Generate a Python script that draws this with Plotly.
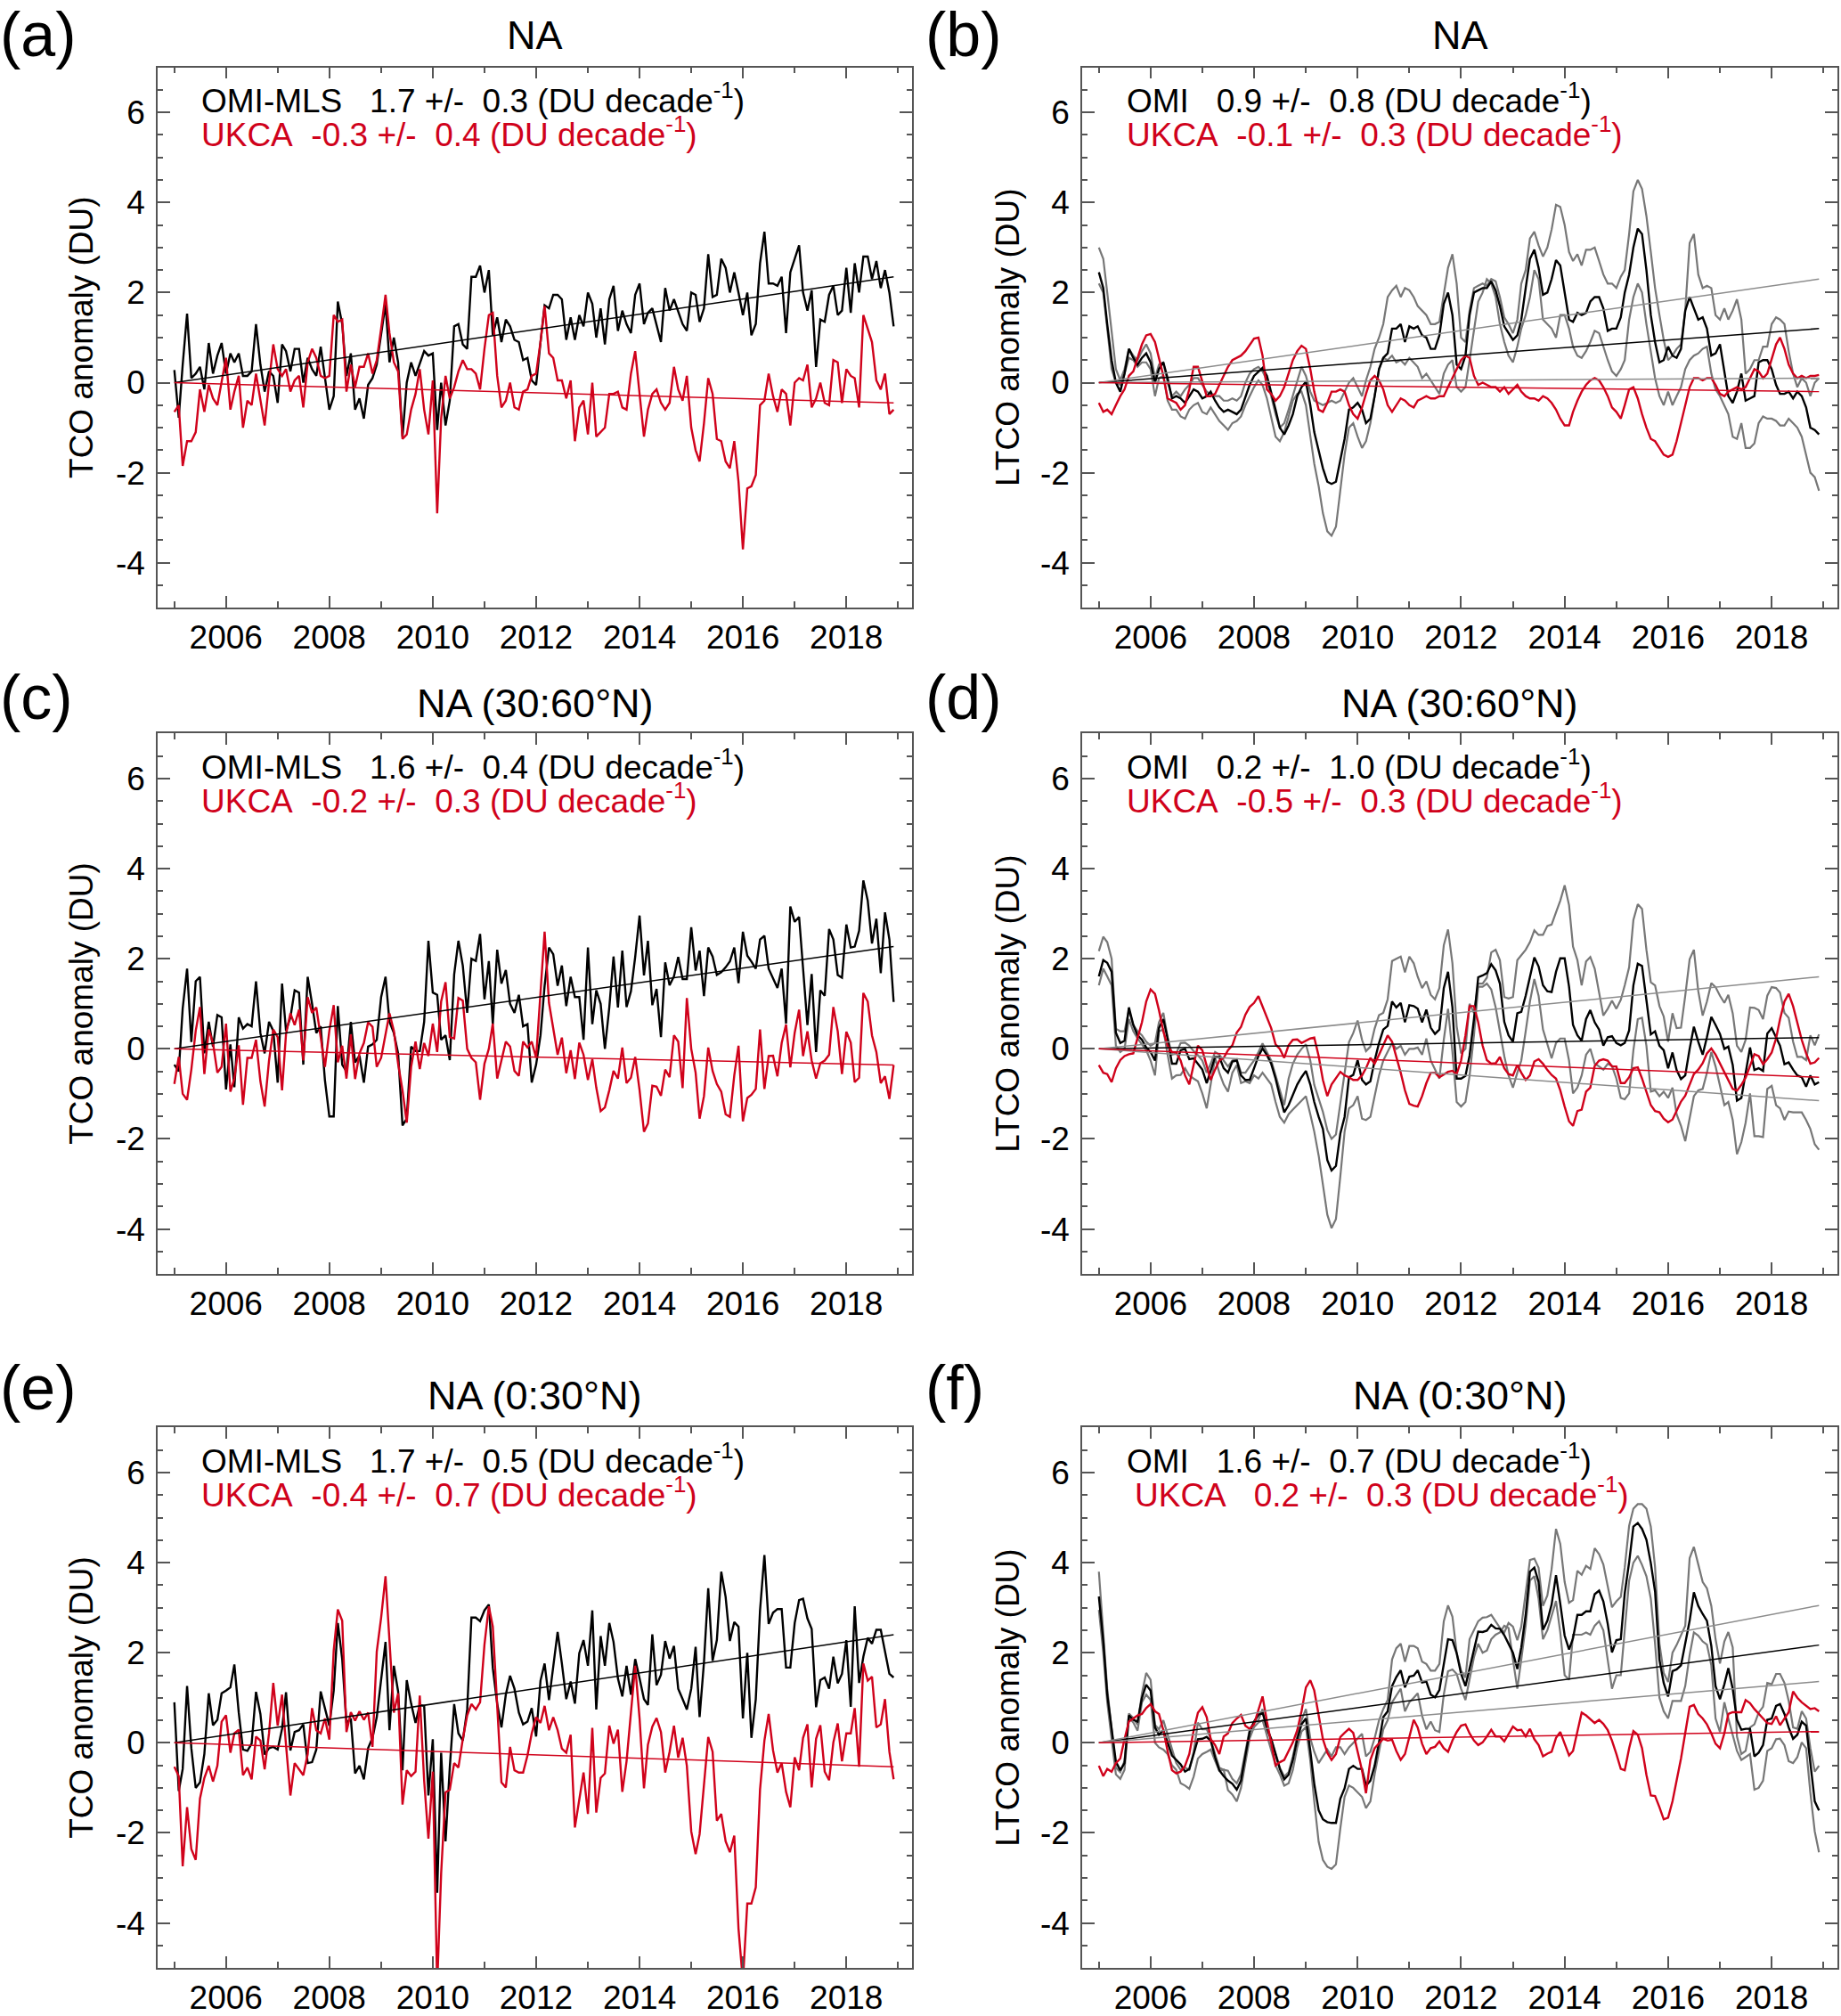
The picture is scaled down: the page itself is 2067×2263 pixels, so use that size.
import numpy as np
import pandas as pd
import plotly.graph_objects as go

W, H = 2067, 2263
FONT = "Liberation Sans, Arial, Helvetica, sans-serif"
RED = "#d0021b"
GREY = "#777777"
TREND_GREY = "#8c8c8c"
AX = "#555555"

# monthly anomalies, Jan 2005 - Dec 2018 (one line per year)
months = pd.date_range("2005-01-01", periods=168, freq="MS")

# (a) NA, TCO
tco_na_omi = [
    0.28, -0.78, 0.4, 1.53, 0.1, 0.2, 0.35, -0.15, 0.88, 0.2, 0.6, 0.88,
    0.2, 0.65, 0.45, 0.65, 0.15, 0.15, 0.25, 1.3, 0.4, -0.2, 0.25, 0.15,
    -0.45, 0.85, 0.7, 0.25, 0.75, 0.75, 0.0, 0.55, 0.3, 0.15, 0.8, 0.15,
    -0.6, -0.3, 1.8, 1.3, 0.15, 0.65, -0.6, -0.35, -0.8, -0.05, 0.1, 0.4,
    1.1, 1.75, 0.45, 1.0, 0.45, -1.2, 0.0, 0.45, 0.15, 0.4, 0.7, 0.6,
    0.65, -1.05, 0.0, -0.95, -0.4, 1.25, 1.3, 0.85, 0.75, 2.35, 2.35, 2.6,
    2.0, 2.5, 1.05, 1.45, 0.9, 1.4, 1.25, 0.95, 0.9, 0.5, 0.55, 0.05,
    -0.05, 0.9, 1.72, 1.65, 1.95, 1.95, 1.85, 0.95, 1.45, 0.95, 1.5, 1.25,
    2.0, 1.75, 1.0, 1.65, 0.85, 1.85, 2.15, 1.15, 1.6, 1.3, 1.1, 1.95,
    2.2, 1.3, 1.55, 1.65, 1.3, 0.9, 2.1, 1.6, 1.85, 1.6, 1.3, 1.15,
    2.0, 1.95, 1.35, 1.65, 2.85, 1.9, 1.95, 2.75, 2.55, 2.0, 2.45, 2.0,
    1.5, 2.0, 1.05, 1.3, 2.65, 3.35, 2.2, 2.2, 2.15, 2.35, 1.1, 2.45,
    2.75, 3.05, 2.0, 1.6, 2.05, 0.35, 1.4, 1.35, 1.95, 2.15, 1.5, 1.6,
    2.55, 1.55, 2.65, 2.0, 2.8, 2.8, 2.3, 2.7, 2.1, 2.5, 2.0, 1.25,
]
tco_na_ukca = [
    -0.65, -0.5, -1.85, -1.3, -1.3, -1.1, -0.15, -0.65, -0.05, -0.35, -0.5, 0.0,
    0.55, -0.6, -0.2, 0.15, -1.0, -0.4, -0.5, 0.2, -0.4, -0.95, 0.0, 0.85,
    0.3, 0.15, 0.3, -0.2, 0.05, 0.15, -0.55, 0.45, 0.75, 0.55, 0.15, 0.1,
    0.15, 1.5, 1.35, 1.4, -0.2, 0.4, -0.1, 0.35, 0.35, 0.65, 0.2, 0.5,
    1.2, 1.95, 1.1, 0.45, 0.25, -1.25, -1.15, -0.6, -0.25, 0.3, -0.6, -1.15,
    0.05, -2.9, -0.8, 0.15, -0.35, -0.1, 0.25, 0.5, 0.3, 0.3, 0.2, -0.15,
    0.75, 1.5, 1.55, 0.15, -0.55, -0.4, 0.0, -0.55, -0.6, -0.2, -0.15, 0.15,
    0.2, 0.9, 1.7, 0.65, 0.55, 0.05, 0.05, -0.35, 0.05, -1.3, -0.55, -0.4,
    -1.15, 0.0, -1.2, -1.1, -1.0, -0.25, -0.25, -0.2, -0.55, -0.6, 0.2, 0.7,
    -0.3, -1.2, -0.6, -0.25, -0.15, -0.45, -0.6, -0.45, 0.35, -0.15, -0.4, 0.15,
    -1.0, -1.5, -1.75, -0.9, 0.1, -0.25, -1.25, -1.3, -1.75, -1.9, -1.3, -2.2,
    -3.7, -2.35, -2.3, -2.05, -0.5, -0.4, 0.2, -0.3, -0.65, -0.15, -0.25, -0.95,
    0.0, 0.1, 0.05, 0.4, -0.55, -0.35, 0.0, -0.45, -0.5, 0.5, 0.45, -0.45,
    0.3, 0.15, 0.1, -0.55, 1.5, 1.2, 0.9, 0.05, -0.15, 0.2, -0.7, -0.6,
]

# (b) NA, LTCO
ltco_na_omi = [
    2.45, 2.1, 1.3, 0.5, 0.0, -0.2, 0.2, 0.75, 0.55, 0.4, 0.55, 0.65,
    0.45, 0.0, 0.3, 0.45, 0.1, -0.35, -0.3, -0.35, -0.45, -0.3, -0.15, -0.2,
    -0.35, -0.3, -0.2, -0.4, -0.55, -0.65, -0.6, -0.65, -0.7, -0.6, -0.3, -0.05,
    0.15, 0.25, 0.33, 0.15, -0.2, -0.6, -1.0, -1.15, -0.95, -0.7, -0.3, -0.1,
    0.02, -0.5, -1.1, -1.5, -1.9, -2.2, -2.25, -2.2, -1.7, -1.25, -0.6, -0.55,
    -0.45, -0.6, -0.9, -0.8, -0.3, 0.3, 0.55, 0.65, 1.2, 1.2, 1.3, 0.9,
    1.25, 1.2, 1.25, 1.05, 1.0, 0.75, 0.75, 1.05, 1.75, 2.0, 1.5, 0.4,
    0.3, 0.6, 1.5, 2.0, 2.05, 2.1, 2.1, 2.25, 2.05, 1.7, 1.25, 1.1,
    0.95, 1.05, 1.4, 2.1, 2.75, 2.95, 2.55, 1.95, 2.0, 2.3, 2.72, 2.6,
    2.0, 1.4, 1.35, 1.55, 1.5, 1.55, 1.8, 1.9, 1.9, 1.65, 1.15, 1.2,
    1.2, 1.45, 2.0, 2.4, 3.0, 3.42, 3.3, 2.5, 1.5, 0.9, 0.45, 0.5,
    0.8, 0.6, 0.55, 0.75, 1.6, 1.9, 1.65, 1.4, 1.45, 1.2, 0.6, 0.65,
    0.85, 0.2, -0.3, -0.45, -0.2, 0.2, -0.4, -0.35, -0.3, 0.45, 0.5, 0.5,
    0.3, -0.05, -0.25, -0.25, -0.2, -0.35, -0.2, -0.3, -0.55, -1.0, -1.05, -1.15,
]
ltco_na_omi_hi = [
    3.0, 2.75, 2.0, 1.1, 0.3, 0.05, 0.3, 0.75, 0.6, 0.5, 0.7, 0.85,
    0.65, 0.1, 0.4, 0.45, 0.0, -0.3, -0.2, -0.3, -0.15, -0.05, 0.1, 0.1,
    -0.05, -0.2, -0.25, -0.3, -0.3, -0.4, -0.4, -0.35, -0.4, -0.3, 0.0, 0.2,
    0.3, 0.35, 0.25, 0.05, -0.3, -0.7, -1.0, -0.9, -0.6, -0.3, 0.0, 0.35,
    0.15, -0.2, -0.4, -0.45, -0.5, -0.45, -0.4, -0.45, -0.4, -0.2, 0.0, 0.1,
    -0.1, -0.3, 0.05, 0.35, 0.75, 1.0, 1.3, 1.9, 2.05, 2.15, 1.9, 2.1,
    2.05, 1.9, 1.7, 1.6, 1.5, 1.3, 1.3, 1.35, 1.95, 2.55, 2.85, 2.2,
    1.0, 0.9, 1.6, 2.1, 2.15, 2.2, 2.15, 2.3, 2.25, 1.9, 1.45, 1.3,
    1.1, 1.4, 2.2, 2.5, 3.2, 3.35, 3.05, 2.8, 3.0, 3.4, 3.95, 3.9,
    3.5, 2.9, 2.7, 2.85, 2.6, 2.95, 2.95, 3.0, 2.7, 2.4, 2.2, 2.2,
    2.1, 2.35, 2.5, 3.3, 4.25, 4.5, 4.3, 3.7, 2.9, 2.1, 1.5, 0.95,
    0.5, 0.6, 0.75, 0.85, 1.6, 3.1, 3.3, 2.4, 2.1, 2.15, 2.1, 1.5,
    1.4, 1.65, 1.4, 1.6, 1.85, 1.4, 0.2, 0.3, 0.5, 0.5, 0.8, 0.8,
    1.3, 1.45, 1.4, 1.3, 0.7, 0.2, -0.1, 0.1, 0.0, -0.3, 0.0, 0.1,
]
ltco_na_omi_lo = [
    2.2, 2.0, 1.2, 0.3, 0.0, -0.05, 0.2, 0.55, 0.5, 0.35, 0.45, 0.45,
    0.3, -0.3, 0.1, 0.15, -0.4, -0.6, -0.6, -0.75, -0.8, -0.6, -0.5, -0.45,
    -0.65, -0.7, -0.55, -0.7, -0.85, -0.95, -1.05, -0.9, -0.85, -0.75, -0.5, -0.3,
    -0.1, 0.05, -0.05, -0.35, -0.8, -1.2, -1.3, -1.1, -0.75, -0.4, -0.25, -0.2,
    -0.5, -1.2, -1.8, -2.3, -2.9, -3.3, -3.4, -3.2, -2.4, -1.6, -1.0, -0.9,
    -1.2, -1.45, -1.3, -0.9, -0.3, 0.3, 0.55, 0.5, 0.6, 0.45, 0.5, 0.4,
    0.55, 0.45, 0.35, 0.1, 0.2, 0.05, -0.1, -0.25, 0.2, 0.4, 0.5, -0.1,
    -0.2, -0.1, 0.5, 1.2, 1.8, 2.0, 2.3, 2.2, 1.9, 1.3, 0.9, 0.6,
    0.45, 0.8, 1.2, 1.5, 1.9, 2.5, 2.3, 1.4, 1.3, 1.2, 1.0, 1.5,
    1.5, 1.2, 0.8, 0.6, 0.55, 0.7, 0.9, 1.15, 1.1, 0.8, 0.5, 0.25,
    0.15, 0.3, 0.5, 1.4, 1.9, 2.2, 2.0, 1.3, 0.7, 0.1, -0.3, -0.5,
    -0.2, -0.5, -0.3, -0.1, 0.3, 0.5, 0.6, 0.65, 0.75, 0.8, 0.2, -0.15,
    -0.3, -0.5, -0.7, -1.2, -1.25, -0.9, -1.45, -1.45, -1.35, -0.9, -0.75, -0.8,
    -0.8, -0.85, -0.95, -0.95, -0.8, -0.9, -1.0, -1.2, -1.6, -2.0, -2.1, -2.4,
]
ltco_na_ukca = [
    -0.45, -0.65, -0.6, -0.7, -0.5, -0.3, -0.15, 0.15, 0.25, 0.55, 0.85, 1.05,
    1.08, 0.9, 0.55, 0.15, -0.35, -0.4, -0.45, -0.6, -0.5, -0.15, 0.35, 0.35,
    0.0, -0.3, -0.3, -0.25, -0.05, 0.15, 0.35, 0.5, 0.55, 0.6, 0.7, 0.85,
    0.98, 1.0, 0.6, -0.15, -0.25, -0.4, -0.3, -0.1, 0.2, 0.5, 0.7, 0.82,
    0.75, 0.3, -0.2, -0.6, -0.65, -0.45, -0.2, -0.2, -0.15, -0.2, -0.5, -0.7,
    -0.8, -0.55, -0.25, 0.05, 0.15, 0.05, -0.15, -0.5, -0.65, -0.5, -0.35, -0.4,
    -0.5, -0.55, -0.4, -0.35, -0.3, -0.35, -0.35, -0.3, -0.3, -0.1, 0.1, 0.3,
    0.5, 0.6, 0.55, 0.15, -0.05, 0.0, -0.05, -0.1, -0.1, -0.2, -0.1, -0.25,
    -0.15, -0.05, -0.2, -0.3, -0.35, -0.35, -0.4, -0.3, -0.35, -0.45, -0.6, -0.8,
    -0.95, -0.95, -0.65, -0.4, -0.2, -0.05, 0.05, 0.1, 0.05, -0.1, -0.3, -0.55,
    -0.65, -0.8, -0.5, -0.15, -0.1, -0.35, -0.7, -1.0, -1.25, -1.3, -1.45, -1.6,
    -1.65, -1.6, -1.3, -0.9, -0.5, -0.1, 0.1, 0.1, 0.05, 0.1, 0.1, -0.05,
    -0.25, -0.3, -0.2, -0.15, -0.1, -0.15, -0.1, 0.1, 0.3, 0.25, 0.1, 0.2,
    0.55, 0.85, 1.0, 0.75, 0.4, 0.2, 0.1, 0.15, 0.1, 0.15, 0.15, 0.17,
]

# (c) NA 30:60N, TCO
tco_nam_omi = [
    -0.35, -0.5, 0.9, 1.78, 0.15, 1.5, 1.6, -0.1, 0.6, 0.05, 0.75, 0.7,
    -0.9, 0.1, -0.85, 0.7, 0.45, 0.55, 0.5, 1.5, 0.35, -0.1, 0.6, 0.4,
    -0.75, 1.45, 0.4, 0.7, 1.3, 1.25, -0.35, 1.6, 1.0, 0.35, 0.5, -0.7,
    -1.5, -1.5, 0.95, -0.35, -0.5, 0.6, -0.3, -0.15, -0.75, 0.05, 0.1, 0.2,
    1.15, 1.6, 0.6, 0.35, -0.1, -1.7, -1.55, 0.05, -0.05, -0.05, 0.6, 2.4,
    1.25, 1.2, 0.2, 0.3, -0.25, 1.65, 2.4, 1.85, 0.8, 2.0, 1.95, 2.55,
    1.1, 1.95, 0.55, 2.2, 1.45, 1.75, 1.0, 0.8, 1.2, 0.5, 0.55, -0.75,
    -0.35, 0.3, 1.4, 2.25, 2.1, 1.4, 1.85, 0.95, 1.6, 1.15, 1.15, 0.2,
    2.25, 0.55, 1.3, 1.0, 0.0, 0.92, 2.05, 0.92, 2.18, 0.93, 1.28, 2.04,
    2.96, 1.63, 2.4, 0.97, 1.33, 0.26, 1.92, 1.41, 1.61, 2.04, 1.55, 1.55,
    2.7, 1.74, 2.18, 1.17, 2.25, 2.05, 1.64, 1.7, 1.81, 1.94, 2.25, 1.46,
    2.6, 2.07, 1.94, 1.78, 2.43, 2.51, 1.78, 1.55, 1.35, 1.78, 0.56, 3.16,
    2.82, 2.93, 1.71, 0.53, 1.66, -0.07, 1.3, 1.18, 2.66, 2.43, 1.64, 1.58,
    2.76, 2.25, 2.27, 2.62, 3.74, 3.29, 2.34, 2.89, 1.68, 3.03, 2.43, 1.04,
]
tco_nam_ukca = [
    -0.78, -0.18, -1.0, -1.13, -0.46, 0.4, 0.93, -0.56, 0.43, 0.13, -0.53, -0.4,
    0.56, -0.95, -0.66, 0.08, -1.24, -0.2, -0.2, 0.2, -0.72, -1.28, -0.26, 0.43,
    0.26, -0.92, 0.33, 0.79, 0.53, 0.87, -0.26, 1.15, 0.8, 0.92, 0.26, -0.4,
    0.4, 0.97, -0.3, 0.07, -0.66, 0.32, -0.67, -0.1, 0.13, 0.59, 0.49, -0.4,
    -0.2, 0.33, 0.79, 0.4, -0.33, -0.92, -1.64, -0.4, 0.16, -0.45, 0.13, -0.16,
    0.56, -0.07, 1.05, 1.48, 0.26, 0.23, 1.13, 1.07, 0.0, -0.2, -0.3, -1.13,
    -0.33, 0.0, 0.56, -0.66, -0.26, 0.16, 0.05, -0.49, -0.6, 0.16, 0.03, 0.16,
    -0.2, 1.2, 2.6, 1.02, 0.46, -0.13, 0.25, -0.54, -0.03, -0.67, 0.14, -0.13,
    -0.69, -0.23, -0.86, -1.38, -1.3, -0.92, -0.49, -0.66, 0.03, -0.76, -0.64, -0.18,
    -0.92, -1.84, -1.66, -0.82, -0.84, -1.04, -0.46, -0.63, 0.3, 0.16, -0.87, 1.13,
    0.0, -0.53, -1.55, -1.05, 0.03, -0.49, -0.78, -0.95, -1.45, -1.51, -0.59, 0.07,
    -1.61, -1.09, -1.02, -0.89, 0.43, -0.89, -0.16, -0.15, -0.61, 0.13, 0.54, -0.41,
    0.36, 0.87, -0.16, 0.39, -0.26, -0.66, -0.32, -0.26, -0.13, 0.93, 0.39, -0.56,
    0.38, 0.14, -0.74, -0.64, 1.24, 1.05, 0.3, -0.07, -0.76, -0.61, -1.11, -0.36,
]

# (d) NA 30:60N, LTCO
ltco_nam_omi = [
    1.61, 1.97, 1.91, 1.71, 0.36, 0.13, 0.18, 0.92, 0.53, 0.3, 0.2, 0.03,
    -0.07, -0.26, 0.46, 0.66, 0.23, -0.33, -0.33, -0.03, 0.0, -0.23, -0.21, -0.33,
    -0.46, -0.76, -0.49, -0.18, -0.18, -0.43, -0.53, -0.28, -0.26, -0.59, -0.69, -0.69,
    -0.43, -0.16, 0.01, -0.14, -0.33, -0.66, -1.05, -1.41, -1.25, -1.02, -0.79, -0.63,
    -0.49, -0.79, -1.18, -1.51, -1.78, -2.47, -2.7, -2.6, -1.88, -1.51, -0.63, -0.58,
    -0.25, -0.69, -0.79, -0.72, -0.26, 0.13, 0.43, 0.51, 1.05, 0.92, 1.02, 0.59,
    0.97, 0.95, 0.89, 0.59, 0.87, 0.47, 0.33, 0.43, 1.35, 1.71, 0.92, -0.66,
    -0.66, -0.6, -0.15, 0.66, 1.59, 1.63, 1.68, 1.88, 1.74, 1.45, 0.6, 0.3,
    0.16, 0.79, 0.82, 1.18, 1.61, 2.03, 1.83, 1.41, 1.28, 1.26, 1.71, 2.01,
    2.01, 1.38, 0.53, 0.3, 0.18, 0.66, 0.86, 0.59, 0.43, 0.07, 0.26, 0.28,
    0.13, 0.08, 0.13, 0.41, 1.41, 1.89, 1.84, 1.05, 0.32, 0.39, 0.07, -0.03,
    -0.43, -0.08, -0.47, -0.67, -0.59, 0.0, 0.49, 0.16, -0.13, 0.26, 0.71, 0.53,
    0.33, 0.0, 0.05, -0.36, -1.15, -1.09, -0.53, 0.03, -0.47, -0.43, -0.49, 0.34,
    0.46, 0.26, 0.07, -0.34, -0.3, -0.46, -0.59, -0.63, -0.84, -0.59, -0.79, -0.74,
]
ltco_nam_omi_hi = [
    2.17, 2.49, 2.37, 2.0, 0.45, 0.39, 0.39, 0.86, 0.53, 0.39, 0.3, 0.16,
    0.07, 0.13, 0.59, 0.8, 0.26, -0.13, -0.1, 0.13, 0.14, 0.07, -0.05, -0.14,
    -0.26, -0.53, -0.33, -0.07, -0.13, -0.26, -0.39, -0.26, -0.23, -0.53, -0.53, -0.39,
    -0.26, -0.07, 0.12, -0.07, -0.26, -0.59, -0.92, -1.25, -0.66, -0.33, -0.13, 0.0,
    0.1, -0.26, -0.8, -1.1, -1.4, -1.8, -2.0, -1.9, -1.2, -0.6, 0.15, 0.35,
    0.63, 0.2, -0.05, 0.05, 0.45, 0.75, 0.8, 1.1, 1.95, 2.0, 2.05, 1.7,
    2.05, 1.9, 1.6, 1.35, 1.5, 1.2, 1.1, 1.35, 2.3, 2.65, 1.9, 0.5,
    -0.1, 0.0, 1.0, 0.8, 1.45, 1.45, 1.58, 2.14, 2.2, 1.97, 1.15, 1.12,
    1.15, 1.97, 2.07, 2.2, 2.37, 2.63, 2.53, 2.53, 2.73, 2.76, 3.03, 3.29,
    3.63, 3.19, 2.27, 1.97, 1.41, 1.94, 2.04, 1.78, 1.25, 0.74, 0.89, 1.07,
    0.89, 1.09, 1.41, 1.81, 2.86, 3.21, 3.11, 2.2, 1.48, 1.41, 0.95, 0.72,
    0.16, 0.79, 0.46, 0.47, 1.18, 1.99, 2.2, 1.28, 0.74, 1.05, 1.46, 1.37,
    1.18, 1.02, 1.2, 0.79, 0.07, -0.07, 0.2, 0.92, 0.91, 0.86, 0.66, 1.18,
    1.37, 1.35, 1.25, 0.8, 0.69, 0.16, -0.18, -0.18, -0.25, 0.3, 0.08, 0.32,
]
ltco_nam_omi_lo = [
    1.41, 1.78, 1.61, 1.41, 0.07, -0.07, 0.0, 0.66, 0.39, 0.23, 0.1, -0.03,
    -0.26, -0.59, 0.39, 0.43, -0.13, -0.66, -0.59, -0.58, -0.43, -0.59, -0.66, -0.72,
    -0.99, -1.32, -0.79, -0.2, -0.53, -0.79, -0.95, -0.53, -0.36, -0.76, -0.72, -0.76,
    -0.59, -0.66, -0.53, -0.66, -0.79, -1.18, -1.51, -1.64, -1.45, -1.35, -1.25, -1.15,
    -1.05, -1.45, -1.84, -2.37, -3.03, -3.68, -3.98, -3.78, -2.83, -1.84, -1.32, -1.25,
    -1.05, -1.55, -1.58, -1.51, -1.05, -0.59, -0.26, -0.07, 0.13, 0.0, 0.07, -0.13,
    0.0, 0.0, 0.03, -0.13, 0.23, -0.26, -0.46, -0.66, 0.2, 0.89, -0.07, -1.18,
    -1.28, -1.18, -0.6, 0.3, 1.38, 1.38, 1.45, 1.32, 0.92, 0.36, -0.16, -0.59,
    -0.86, -0.53, -0.26, 0.39, 1.05, 1.55, 1.18, 0.43, 0.1, -0.21, 0.13, 0.23,
    0.23, -0.26, -0.99, -0.86, -0.59, -0.13, 0.0, -0.33, -0.39, -0.46, -0.33, -0.38,
    -0.66, -1.09, -1.12, -0.99, -0.03, 0.66, 0.69, 0.07, -0.95, -0.92, -1.05, -0.95,
    -1.09, -0.86, -1.45, -1.71, -2.05, -1.55, -1.05, -0.92, -0.89, -0.53, -0.07, -0.39,
    -0.79, -1.25, -1.18, -1.58, -2.34, -2.07, -1.64, -0.99, -1.94, -1.94, -1.96, -0.89,
    -0.82, -1.25, -1.32, -1.58, -1.39, -1.41, -1.41, -1.41, -1.58, -1.78, -2.12, -2.24,
]
ltco_nam_ukca = [
    -0.36, -0.53, -0.56, -0.74, -0.43, -0.25, -0.16, -0.12, -0.1, 0.26, 0.59, 1.05,
    1.32, 1.22, 0.86, 0.39, 0.07, -0.07, -0.08, -0.26, -0.59, -0.79, -0.36, 0.07,
    -0.03, -0.39, -0.69, -0.46, -0.26, -0.2, -0.03, 0.08, 0.36, 0.49, 0.76, 0.93,
    1.02, 1.17, 0.95, 0.69, 0.46, 0.1, 0.0, -0.2, 0.08, 0.2, 0.21, 0.13,
    0.18, 0.23, 0.25, -0.16, -0.69, -1.05, -0.79, -0.66, -0.51, -0.59, -0.63, -0.69,
    -0.69, -0.59, -0.43, -0.2, -0.33, -0.13, 0.07, 0.3, 0.16, -0.16, -0.53, -0.92,
    -1.22, -1.26, -1.28, -1.05, -0.76, -0.53, -0.53, -0.63, -0.56, -0.51, -0.49, -0.56,
    -0.26, 0.3, 0.95, 0.95, 0.59, 0.07, -0.25, -0.33, -0.32, -0.18, -0.43, -0.56,
    -0.59, -0.36, -0.53, -0.69, -0.59, -0.28, -0.23, -0.33, -0.47, -0.58, -0.66, -0.92,
    -1.28, -1.61, -1.71, -1.38, -1.35, -0.95, -0.86, -0.38, -0.26, -0.23, -0.26, -0.39,
    -0.39, -0.76, -0.76, -0.63, -0.43, -0.41, -0.66, -0.95, -1.25, -1.38, -1.41, -1.55,
    -1.63, -1.57, -1.38, -1.17, -1.04, -0.78, -0.56, -0.46, -0.32, -0.1, 0.01, -0.13,
    -0.33, -0.54, -0.72, -0.89, -0.93, -0.8, -0.64, -0.39, -0.12, -0.16, -0.34, -0.23,
    -0.08, 0.23, 0.66, 1.05, 1.22, 0.95, 0.56, 0.2, -0.1, -0.33, -0.3, -0.2,
]

# (e) NA 0:30N, TCO
tco_nas_omi = [
    0.9, -1.07, -0.58, 1.26, -0.12, -1.0, -0.88, -0.25, 1.1, 0.39, 0.51, 1.1,
    1.16, 1.23, 1.74, 0.67, -0.15, -0.18, -0.02, 1.13, 0.64, -0.26, -0.12, -0.09,
    -0.15, 0.31, 1.12, -0.17, 0.24, 0.28, 0.41, -0.45, -0.43, -0.15, 1.14, 0.75,
    0.38, 1.16, 2.66, 1.86, 0.44, 0.54, -0.68, -0.51, -0.81, -0.12, 0.11, 0.57,
    1.46, 2.24, 0.28, 1.71, 1.14, -0.61, 1.39, 0.87, 0.44, 0.84, 0.82, -1.17,
    0.08, -3.33, -0.22, -2.19, -0.55, 0.86, 0.21, 0.05, 0.74, 2.78, 2.78, 2.7,
    2.94, 3.07, 1.66, 0.87, 0.34, 1.07, 1.49, 1.2, 0.67, 0.41, 0.47, 0.77,
    0.14, 1.38, 1.76, 0.95, 1.69, 2.46, 1.76, 0.97, 1.36, 0.87, 1.99, 2.28,
    1.71, 2.94, 0.74, 2.37, 1.71, 2.66, 2.24, 1.43, 1.03, 1.71, 1.07, 1.86,
    1.43, 0.97, 0.84, 2.41, 1.28, 1.51, 2.26, 1.87, 2.15, 1.2, 0.97, 0.74,
    1.2, 2.13, 0.57, 1.79, 3.43, 1.82, 2.28, 3.8, 3.24, 2.26, 2.68, 2.58,
    0.54, 2.0, 0.11, 0.97, 2.94, 4.17, 2.64, 2.89, 2.97, 2.97, 1.67, 1.67,
    2.66, 3.17, 3.2, 2.76, 2.53, 0.79, 1.39, 1.45, 1.2, 1.91, 1.32, 1.53,
    2.28, 0.8, 3.03, 1.33, 1.91, 2.33, 2.2, 2.51, 2.51, 1.99, 1.53, 1.45,
]
tco_nas_ukca = [
    -0.53, -0.74, -2.74, -1.43, -2.36, -2.6, -1.24, -0.78, -0.51, -0.86, -0.51, 0.47,
    0.61, -0.22, 0.21, 0.29, -0.72, -0.55, -0.81, 0.14, 0.05, -0.59, 0.21, 1.33,
    0.38, 1.07, -0.05, -1.17, -0.45, -0.58, -0.72, -0.25, 0.77, 0.28, 0.21, 0.54,
    0.07, 2.05, 2.96, 2.71, 0.24, 0.68, 0.49, 0.7, 0.51, 0.67, -0.09, 2.02,
    2.78, 3.7, 2.15, 0.67, 1.1, -1.37, -0.61, -0.74, -0.64, 1.05, -0.84, -2.13,
    -0.64, -5.4, -2.9, -1.1, -1.04, -0.45, -0.55, 0.08, 0.61, 0.86, 0.74, 0.9,
    2.18, 3.03, 2.58, 0.8, -0.88, -0.99, -0.09, -0.61, -0.66, -0.66, -0.28, 0.21,
    0.57, 0.44, 0.82, 0.28, 0.57, 0.28, -0.13, -0.22, 0.18, -1.88, -1.27, -0.66,
    -1.58, 0.33, -1.55, -0.78, -0.68, 0.38, -0.02, 0.29, -1.09, -0.41, 0.67, 1.71,
    0.54, -1.01, -0.04, 0.36, 0.55, 0.24, -0.66, -0.2, 0.38, -0.33, 0.11, -0.51,
    -1.97, -2.47, -2.03, -0.94, 0.13, -0.2, -1.73, -1.58, -2.19, -2.43, -2.06, -4.13,
    -5.3, -3.57, -3.57, -3.21, -1.04, 0.05, 0.64, -0.17, -0.66, -0.45, -1.09, -1.43,
    -0.32, -0.61, 0.11, 0.41, -0.99, 0.09, 0.39, -0.64, -0.83, 0.01, 0.43, -0.41,
    0.21, 0.21, 0.77, -0.53, 1.76, 1.38, 1.47, 0.34, 0.41, 0.97, -0.2, -0.81,
]

# (f) NA 0:30N, LTCO
ltco_nas_omi = [
    3.25, 2.26, 1.07, 0.28, -0.42, -0.61, -0.45, 0.61, 0.51, 0.47, 1.0, 1.29,
    1.16, 0.34, 0.18, 0.28, 0.01, -0.28, -0.38, -0.48, -0.64, -0.58, -0.25, 0.08,
    0.09, 0.13, 0.05, -0.32, -0.61, -0.74, -0.84, -0.91, -1.04, -0.84, -0.28, 0.24,
    0.47, 0.62, 0.67, 0.34, 0.08, -0.28, -0.58, -0.81, -0.71, -0.38, 0.08, 0.41,
    0.54, -0.18, -0.91, -1.5, -1.7, -1.76, -1.78, -1.78, -1.24, -1.01, -0.58, -0.51,
    -0.58, -0.58, -0.95, -0.84, -0.51, 0.01, 0.57, 0.7, 1.26, 1.46, 1.61, 1.23,
    1.47, 1.49, 1.61, 1.34, 1.36, 1.07, 1.01, 1.17, 1.79, 2.3, 2.28, 1.99,
    1.53, 1.26, 1.65, 2.1, 2.47, 2.46, 2.49, 2.62, 2.54, 2.53, 2.39, 2.2,
    2.0, 1.64, 2.12, 2.84, 3.8, 3.89, 3.57, 2.51, 2.71, 3.07, 3.72, 3.09,
    2.38, 2.07, 2.32, 2.84, 2.84, 2.92, 2.92, 3.3, 3.38, 3.14, 2.64, 2.01,
    2.28, 2.3, 3.32, 4.01, 4.8, 4.88, 4.75, 4.51, 3.99, 3.36, 1.84, 1.33,
    1.03, 1.59, 1.63, 1.72, 2.18, 2.71, 3.34, 3.04, 2.86, 2.71, 2.15, 1.26,
    0.97, 1.3, 1.66, 1.2, 0.51, 0.29, 0.31, 0.31, -0.3, -0.22, -0.05, 0.51,
    0.54, 0.82, 0.86, 0.64, 0.34, 0.09, 0.18, 0.47, 0.38, -0.51, -1.3, -1.5,
]
ltco_nas_omi_hi = [
    3.8, 2.5, 1.2, 0.3, -0.55, -0.65, -0.4, 0.65, 0.55, 0.4, 1.1, 1.55,
    1.4, 0.4, 0.3, 0.5, 0.2, -0.15, -0.45, -0.6, -0.55, -0.6, -0.2, 0.45,
    0.3, 0.3, 0.1, -0.25, -0.55, -0.6, -0.62, -0.8, -0.9, -0.7, -0.2, 0.3,
    0.45, 0.5, 0.75, 0.25, 0.1, -0.25, -0.55, -0.75, -0.65, -0.3, 0.15, 0.5,
    0.75, 0.1, -0.2, -0.45, -0.3, -0.15, -0.3, -0.1, -0.1, -0.25, -0.1, 0.0,
    0.1, 0.2, -0.3, -0.2, 0.1, 0.5, 0.75, 0.95, 1.85, 2.1, 2.2, 1.8,
    2.15, 2.15, 2.1, 1.8, 1.75, 1.6, 1.6, 1.75, 2.7, 3.05, 2.8, 2.0,
    1.6, 1.45, 2.3, 2.5, 2.7, 2.78, 2.79, 2.84, 2.7, 2.55, 2.45, 2.66,
    2.58, 2.28, 2.58, 3.37, 4.06, 4.09, 3.89, 3.04, 3.27, 3.86, 4.75, 4.42,
    3.57, 3.11, 3.17, 3.82, 3.73, 3.93, 3.86, 4.32, 4.19, 3.96, 3.5, 3.01,
    3.14, 3.24, 3.89, 4.82, 5.2, 5.3, 5.3, 5.2, 4.8, 3.9, 2.2, 1.55,
    1.35, 2.0, 2.17, 2.38, 2.6, 4.1, 4.35, 3.96, 3.57, 3.43, 3.04, 2.3,
    1.76, 2.25, 2.46, 2.12, 0.14, -0.25, -0.18, 0.34, 0.41, 0.67, 0.8, 1.33,
    1.3, 1.53, 1.53, 1.33, 0.93, 0.34, 0.31, 0.7, 0.54, -0.12, -0.64, -0.51,
]
ltco_nas_omi_lo = [
    2.95, 2.0, 0.9, 0.1, -0.7, -0.8, -0.6, 0.55, 0.45, 0.27, 0.9, 1.07,
    0.95, 0.0, -0.1, -0.15, -0.25, -0.5, -0.6, -0.9, -0.95, -1.02, -0.75, -0.35,
    -0.25, -0.2, -0.15, -0.4, -0.62, -0.6, -1.05, -1.15, -1.3, -1.0, -0.45, 0.1,
    0.35, 0.45, 0.5, 0.15, -0.15, -0.5, -0.7, -0.95, -0.9, -0.6, -0.1, 0.25,
    0.35, -0.4, -1.3, -2.2, -2.6, -2.75, -2.8, -2.7, -1.9, -1.2, -0.95, -1.0,
    -1.1, -1.2, -1.45, -1.3, -0.7, -0.2, 0.3, 0.5, 0.9, 1.05, 1.2, 0.7,
    0.9, 1.0, 1.1, 0.6, 0.3, 0.47, 0.28, 0.24, 1.07, 1.59, 1.63, 1.53,
    1.2, 0.95, 1.4, 1.9, 2.2, 2.0, 2.05, 2.3, 2.4, 2.45, 2.6, 2.55,
    1.85, 1.2, 1.85, 2.6, 3.6, 3.7, 3.2, 2.3, 2.5, 2.8, 3.15, 2.45,
    1.5, 1.4, 2.4, 2.4, 2.4, 2.45, 2.4, 2.6, 2.7, 2.5, 1.85, 1.2,
    1.5, 1.5, 2.5, 3.6, 4.0, 4.15, 3.95, 3.7, 3.2, 2.2, 1.0, 0.7,
    0.54, 0.93, 0.93, 0.93, 1.26, 1.95, 2.45, 2.38, 2.25, 2.18, 1.72, 0.54,
    0.24, 0.9, 0.54, 0.15, -0.18, -0.38, -0.32, -0.25, -1.04, -1.0, -0.84, -0.18,
    -0.12, 0.08, 0.09, -0.05, -0.41, -0.45, -0.32, 0.01, -0.12, -1.11, -1.97, -2.43,
]
ltco_nas_ukca = [
    -0.51, -0.74, -0.58, -0.64, -0.45, -0.35, 0.08, 0.47, 0.54, 0.61, 0.64, 0.77,
    0.86, 0.7, 0.64, 0.28, -0.18, -0.61, -0.68, -0.64, -0.51, -0.25, 0.28, 0.67,
    0.79, 0.57, 0.08, -0.05, -0.25, 0.14, 0.21, 0.44, 0.54, 0.62, 0.38, 0.31,
    0.41, 0.74, 1.03, 0.47, 0.01, -0.5, -0.43, -0.38, -0.18, 0.01, 0.28, 0.7,
    1.23, 1.39, 1.16, 0.64, 0.08, -0.22, -0.38, -0.25, 0.13, 0.22, 0.31, 0.22,
    -0.18, -0.61, -1.12, -0.38, -0.12, -0.02, 0.09, 0.05, 0.07, -0.18, -0.38, -0.25,
    0.14, 0.51, 0.34, -0.02, -0.25, -0.12, -0.09, 0.03, -0.12, -0.2, 0.05, 0.24,
    0.38, 0.41, 0.21, 0.05, -0.05, 0.01, 0.14, 0.29, 0.14, 0.14, 0.03, 0.2,
    0.36, 0.28, 0.29, 0.14, 0.31, 0.08, -0.05, -0.3, -0.24, -0.2, 0.11, 0.24,
    -0.04, -0.28, -0.18, 0.28, 0.67, 0.61, 0.53, 0.44, 0.51, 0.42, 0.28, 0.05,
    -0.25, -0.58, -0.61, -0.12, 0.26, 0.18, -0.12, -0.71, -1.17, -1.18, -1.43, -1.7,
    -1.66, -1.3, -0.84, -0.35, 0.22, 0.8, 0.84, 0.64, 0.54, 0.41, 0.21, -0.02,
    -0.12, 0.21, 0.64, 0.68, 0.68, 0.68, 0.95, 0.88, 0.75, 0.64, 0.54, 0.44,
    0.42, 0.59, 0.39, 0.54, 0.68, 1.14, 1.0, 0.9, 0.82, 0.75, 0.77, 0.7,
]

# trend lines: value reached at the end of the record (all start from 0)
trend_a = [2.35, -0.45]                 # OMI-MLS, UKCA
trend_b = [1.2, 2.3, 0.1, -0.2]         # OMI, OMI upper, OMI lower, UKCA
trend_c = [2.27, -0.36]
trend_d = [0.25, 1.6, -1.15, -0.63]
trend_e = [2.4, -0.53]
trend_f = [2.17, 3.05, 1.36, 0.25]

titles = ["NA", "NA", "NA (30:60\u00b0N)", "NA (30:60\u00b0N)", "NA (0:30\u00b0N)", "NA (0:30\u00b0N)"]
letters = ["(a)", "(b)", "(c)", "(d)", "(e)", "(f)"]
ylabels = ["TCO anomaly (DU)", "LTCO anomaly (DU)"] * 3
sat_names = ["OMI-MLS", "OMI"] * 3
sat_trends = [("1.7", "0.3"), ("0.9", "0.8"), ("1.6", "0.4"), ("0.2", "1.0"), ("1.7", "0.5"), ("1.6", "0.7")]
ukca_trends = [("-0.3", "0.4"), ("-0.1", "0.3"), ("-0.2", "0.3"), ("-0.5", "0.3"), ("-0.4", "0.7"), ("0.2", "0.3")]

panels = [
    dict(black=tco_na_omi, red=tco_na_ukca, hi=None, lo=None, trend=trend_a),
    dict(black=ltco_na_omi, red=ltco_na_ukca, hi=ltco_na_omi_hi, lo=ltco_na_omi_lo, trend=trend_b),
    dict(black=tco_nam_omi, red=tco_nam_ukca, hi=None, lo=None, trend=trend_c),
    dict(black=ltco_nam_omi, red=ltco_nam_ukca, hi=ltco_nam_omi_hi, lo=ltco_nam_omi_lo, trend=trend_d),
    dict(black=tco_nas_omi, red=tco_nas_ukca, hi=None, lo=None, trend=trend_e),
    dict(black=ltco_nas_omi, red=ltco_nas_ukca, hi=ltco_nas_omi_hi, lo=ltco_nas_omi_lo, trend=trend_f),
]

# page geometry in pixels
col_px = [(177, 1024), (1215, 2063)]
row_px = [(75.8, 683.8), (825.3, 1433.3), (1606, 2214)]
title_y = [40, 791, 1570]
letter_y = [39, 785, 1561]
letter_x = [-2, 1037]
ylabel_x = [92, 1132]
text_x = [224, 1263]

NB = "\u00a0"


def px_x(v):
    return v / W


def px_y(v):
    return 1 - v / H


def fmt(v):
    # IDL style f5.1 field: "  1.7" / " -0.3"
    return NB * (5 - len(v)) + v


fig = go.Figure()
annotations = []
x_major = [f"{y}-01-01" for y in range(2006, 2019, 2)]
x_minor = [f"{y}-01-01" for y in range(2005, 2020, 2)]
trend_x = [months[0], months[-1]]

for k, p in enumerate(panels):
    row, col = divmod(k, 2)
    n = k + 1
    xa = "x" if n == 1 else f"x{n}"
    ya = "y" if n == 1 else f"y{n}"

    if p["hi"] is not None:
        for series in (p["hi"], p["lo"]):
            fig.add_trace(go.Scatter(x=months, y=series, mode="lines", xaxis=xa, yaxis=ya,
                                     line=dict(color=GREY, width=2.2), showlegend=False))
    fig.add_trace(go.Scatter(x=months, y=p["black"], mode="lines", xaxis=xa, yaxis=ya,
                             line=dict(color="black", width=2.4), showlegend=False))
    fig.add_trace(go.Scatter(x=months, y=p["red"], mode="lines", xaxis=xa, yaxis=ya,
                             line=dict(color=RED, width=2.4), showlegend=False))

    tr = p["trend"]
    trend_cols = ["black", TREND_GREY, TREND_GREY, RED] if len(tr) == 4 else ["black", RED]
    for end, c in zip(tr, trend_cols):
        fig.add_trace(go.Scatter(x=trend_x, y=[0, end], mode="lines", xaxis=xa, yaxis=ya,
                                 line=dict(color=c, width=1.5), showlegend=False))

    x0, x1 = col_px[col]
    y0, y1 = row_px[row]
    common = dict(showline=True, linecolor=AX, linewidth=1.6, mirror="allticks",
                  ticks="inside", tickcolor=AX, tickwidth=1.6,
                  showgrid=False, zeroline=False,
                  tickfont=dict(family=FONT, size=37, color="black"))
    fig.layout[f"xaxis{'' if n == 1 else n}"] = dict(
        common, type="date", domain=[px_x(x0), px_x(x1)], anchor=ya,
        range=["2004-09-05", "2019-04-10"],
        tickmode="array", tickvals=x_major, ticktext=[v[:4] for v in x_major],
        ticklen=13, ticklabelstandoff=0,
        minor=dict(tickmode="array", tickvals=x_minor, ticks="inside", ticklen=7,
                   tickcolor=AX, tickwidth=1.6),
    )
    fig.layout[f"yaxis{'' if n == 1 else n}"] = dict(
        common, domain=[px_y(y1), px_y(y0)], anchor=xa, range=[-5, 7],
        tickmode="array", tickvals=[-4, -2, 0, 2, 4, 6],
        ticktext=["-4", "-2", "0", "2", "4", "6"],
        ticklen=14, ticklabelstandoff=5,
        minor=dict(tickmode="linear", tick0=0, dtick=0.5, ticks="inside", ticklen=6,
                   tickcolor=AX, tickwidth=1.6),
    )

    cx = (x0 + x1) / 2
    annotations.append(dict(x=px_x(cx), y=px_y(title_y[row]), text=titles[k],
                            font=dict(family=FONT, size=45, color="black"),
                            xanchor="center", yanchor="middle"))
    annotations.append(dict(x=px_x(letter_x[col]), y=px_y(letter_y[row]), text=letters[k],
                            font=dict(family=FONT, size=70, color="black"),
                            xanchor="left", yanchor="middle"))
    annotations.append(dict(x=px_x(ylabel_x[col]), y=px_y((y0 + y1) / 2), text=ylabels[k],
                            textangle=-90, font=dict(family=FONT, size=37, color="black"),
                            xanchor="center", yanchor="middle"))

    s_val, s_err = sat_trends[k]
    u_val, u_err = ukca_trends[k]
    unit = "(DU decade<sup>-1</sup>)"
    line1 = f"{sat_names[k]}{NB}{fmt(s_val)} +/-{fmt(s_err)} {unit}"
    line2 = f"UKCA{NB}{fmt(u_val)} +/-{fmt(u_err)} {unit}"
    tx = text_x[col]
    annotations.append(dict(x=px_x(tx), y=px_y(y0 + 35), text=line1,
                            font=dict(family=FONT, size=37, color="black"),
                            xanchor="left", yanchor="middle"))
    annotations.append(dict(x=px_x(tx + (9 if k == 5 else 0)), y=px_y(y0 + 73), text=line2,
                            font=dict(family=FONT, size=37, color=RED),
                            xanchor="left", yanchor="middle"))

for a in annotations:
    a.update(xref="paper", yref="paper", showarrow=False)

fig.update_layout(
    width=W, height=H,
    margin=dict(l=0, r=0, t=0, b=0),
    paper_bgcolor="white", plot_bgcolor="white",
    font=dict(family=FONT, color="black"),
    annotations=annotations,
    showlegend=False,
)

# the page body has a default 8px margin; drop it so the figure sits at the window origin
fig.write_html("out.html", config={"displayModeBar": False},
               post_script="document.body.style.margin='0px';")
